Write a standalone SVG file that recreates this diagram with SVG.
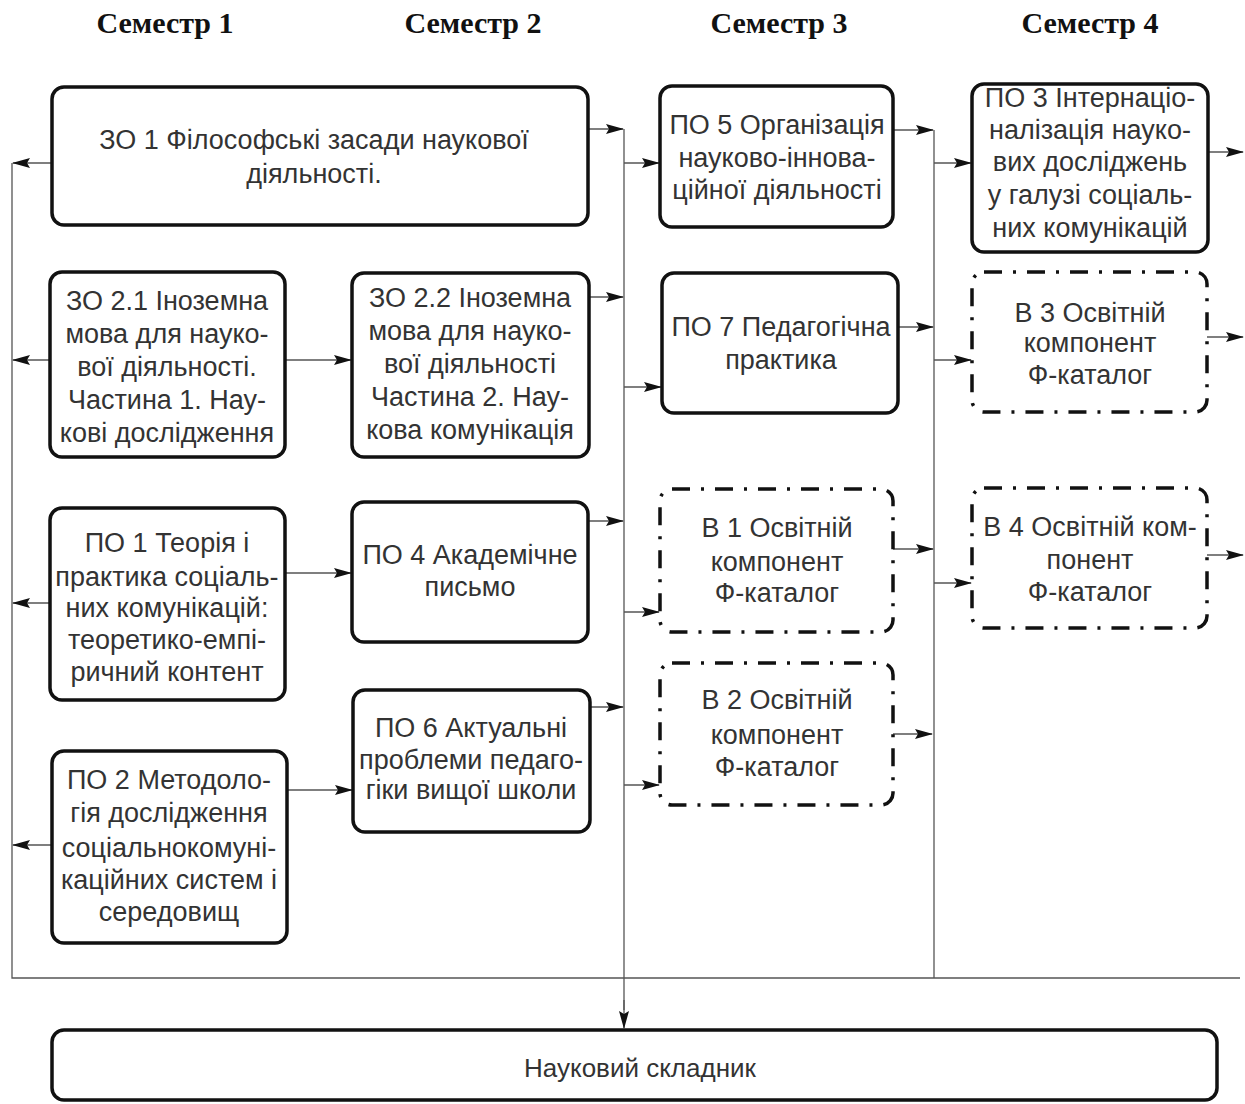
<svg xmlns="http://www.w3.org/2000/svg" width="1245" height="1104" viewBox="0 0 1245 1104">
<style>
.hdr{font-family:"Liberation Serif","Times New Roman",serif;font-weight:bold;font-size:30px;fill:#111;text-anchor:middle}
.t{font-family:"Liberation Sans",Arial,sans-serif;font-size:27px;fill:#333;text-anchor:middle}
.box{fill:#fff;stroke:#111;stroke-width:3.5}
.dbox{fill:#fff;stroke:#111;stroke-width:3.5;stroke-dasharray:18 11 3 11}
.ln{fill:none;stroke:#555;stroke-width:1.3}
.ar{fill:none;stroke:#555;stroke-width:1.3;marker-end:url(#ah)}
</style>
<defs>
<marker id="ah" markerUnits="userSpaceOnUse" markerWidth="18" markerHeight="10" refX="17" refY="5" orient="auto">
<path d="M0,0 L18,5 L0,10 L3,5 z" fill="#111"/>
</marker>
</defs>
<rect width="1245" height="1104" fill="#fff"/>
<g id="headers">
<text class="hdr" x="165" y="33">Семестр 1</text>
<text class="hdr" x="473" y="33">Семестр 2</text>
<text class="hdr" x="779" y="33">Семестр 3</text>
<text class="hdr" x="1090" y="33">Семестр 4</text>
</g>
<g id="connectors">
<polyline class="ln" points="12,163 12,978 1240,978"/>
<line class="ln" x1="624" y1="129" x2="624" y2="1010"/>
<line class="ar" x1="624" y1="1000" x2="624" y2="1028"/>
<line class="ln" x1="934" y1="130" x2="934" y2="978"/>
<line class="ar" x1="52" y1="163" x2="13" y2="163"/>
<line class="ar" x1="50" y1="360" x2="13" y2="360"/>
<line class="ar" x1="50" y1="603" x2="13" y2="603"/>
<line class="ar" x1="52" y1="845" x2="13" y2="845"/>
<line class="ar" x1="285" y1="360" x2="351" y2="360"/>
<line class="ar" x1="285" y1="573" x2="351" y2="573"/>
<line class="ar" x1="287" y1="790" x2="352" y2="790"/>
<line class="ar" x1="588" y1="129" x2="623" y2="129"/>
<line class="ar" x1="589" y1="297" x2="623" y2="297"/>
<line class="ar" x1="588" y1="521" x2="623" y2="521"/>
<line class="ar" x1="590" y1="707" x2="623" y2="707"/>
<line class="ar" x1="624" y1="163" x2="659" y2="163"/>
<line class="ar" x1="624" y1="387" x2="661" y2="387"/>
<line class="ar" x1="624" y1="612" x2="659" y2="612"/>
<line class="ar" x1="624" y1="785" x2="659" y2="785"/>
<line class="ar" x1="893" y1="130" x2="933" y2="130"/>
<line class="ar" x1="898" y1="327" x2="933" y2="327"/>
<line class="ar" x1="893" y1="549" x2="933" y2="549"/>
<line class="ar" x1="893" y1="734" x2="932" y2="734"/>
<line class="ar" x1="934" y1="163" x2="971" y2="163"/>
<line class="ar" x1="934" y1="360" x2="971" y2="360"/>
<line class="ar" x1="934" y1="583" x2="971" y2="583"/>
<line class="ar" x1="1208" y1="152" x2="1243" y2="152"/>
<line class="ar" x1="1207" y1="337" x2="1243" y2="337"/>
<line class="ar" x1="1207" y1="555" x2="1243" y2="555"/>
</g>
<g id="zo1">
<rect class="box" x="52" y="87" width="536" height="138" rx="12"/>
<text class="t" x="314"><tspan x="314" y="149">ЗО 1 Філософські засади наукової</tspan><tspan x="314" y="183">діяльності.</tspan></text>
</g>
<g id="po5">
<rect class="box" x="660" y="86" width="233" height="141" rx="12"/>
<text class="t"><tspan x="777" y="134">ПО 5 Організація</tspan><tspan x="777" y="167">науково-іннова-</tspan><tspan x="777" y="199">ційної діяльності</tspan></text>
</g>
<g id="po3">
<rect class="box" x="972" y="84" width="236" height="168" rx="12"/>
<text class="t"><tspan x="1090" y="107">ПО 3 Інтернаціо-</tspan><tspan x="1090" y="139">налізація науко-</tspan><tspan x="1090" y="171">вих досліджень</tspan><tspan x="1090" y="204">у галузі соціаль-</tspan><tspan x="1090" y="237">них комунікацій</tspan></text>
</g>
<g id="zo21">
<rect class="box" x="50" y="272" width="235" height="185" rx="12"/>
<text class="t"><tspan x="167" y="310">ЗО 2.1 Іноземна</tspan><tspan x="167" y="343">мова для науко-</tspan><tspan x="167" y="376">вої діяльності.</tspan><tspan x="167" y="409">Частина 1. Нау-</tspan><tspan x="167" y="442">кові дослідження</tspan></text>
</g>
<g id="zo22">
<rect class="box" x="352" y="273" width="237" height="184" rx="12"/>
<text class="t"><tspan x="470" y="307">ЗО 2.2 Іноземна</tspan><tspan x="470" y="340">мова для науко-</tspan><tspan x="470" y="373">вої діяльності</tspan><tspan x="470" y="406">Частина 2. Нау-</tspan><tspan x="470" y="439">кова комунікація</tspan></text>
</g>
<g id="po7">
<rect class="box" x="662" y="273" width="236" height="140" rx="12"/>
<text class="t"><tspan x="781" y="336">ПО 7 Педагогічна</tspan><tspan x="781" y="369">практика</tspan></text>
</g>
<g id="v3">
<rect class="dbox" x="972" y="272" width="235" height="140" rx="12"/>
<text class="t"><tspan x="1090" y="322">В 3 Освітній</tspan><tspan x="1090" y="352">компонент</tspan><tspan x="1090" y="384">Ф-каталог</tspan></text>
</g>
<g id="po1">
<rect class="box" x="50" y="508" width="235" height="192" rx="12"/>
<text class="t"><tspan x="167" y="552">ПО 1 Теорія і</tspan><tspan x="167" y="586">практика соціаль-</tspan><tspan x="167" y="617">них комунікацій:</tspan><tspan x="167" y="649">теоретико-емпі-</tspan><tspan x="167" y="681">ричний контент</tspan></text>
</g>
<g id="po4">
<rect class="box" x="352" y="502" width="236" height="140" rx="12"/>
<text class="t"><tspan x="470" y="564">ПО 4 Академічне</tspan><tspan x="470" y="596">письмо</tspan></text>
</g>
<g id="v1">
<rect class="dbox" x="660" y="489" width="233" height="143" rx="12"/>
<text class="t"><tspan x="777" y="537">В 1 Освітній</tspan><tspan x="777" y="571">компонент</tspan><tspan x="777" y="602">Ф-каталог</tspan></text>
</g>
<g id="v4">
<rect class="dbox" x="972" y="488" width="235" height="140" rx="12"/>
<text class="t"><tspan x="1090" y="536">В 4 Освітній ком-</tspan><tspan x="1090" y="569">понент</tspan><tspan x="1090" y="601">Ф-каталог</tspan></text>
</g>
<g id="v2">
<rect class="dbox" x="660" y="663" width="233" height="142" rx="12"/>
<text class="t"><tspan x="777" y="709">В 2 Освітній</tspan><tspan x="777" y="744">компонент</tspan><tspan x="777" y="776">Ф-каталог</tspan></text>
</g>
<g id="po6">
<rect class="box" x="353" y="690" width="237" height="142" rx="12"/>
<text class="t"><tspan x="471" y="737">ПО 6 Актуальні</tspan><tspan x="471" y="769">проблеми педаго-</tspan><tspan x="471" y="799">гіки вищої школи</tspan></text>
</g>
<g id="po2">
<rect class="box" x="52" y="751" width="235" height="192" rx="12"/>
<text class="t"><tspan x="169" y="789">ПО 2 Методоло-</tspan><tspan x="169" y="822">гія дослідження</tspan><tspan x="169" y="857">соціальнокомуні-</tspan><tspan x="169" y="889">каційних систем і</tspan><tspan x="169" y="921">середовищ</tspan></text>
</g>
<g id="science">
<rect class="box" x="52" y="1030" width="1165" height="70" rx="12"/>
<text class="t" x="640" y="1077" style="font-size:26px">Науковий складник</text>
</g>
</svg>
